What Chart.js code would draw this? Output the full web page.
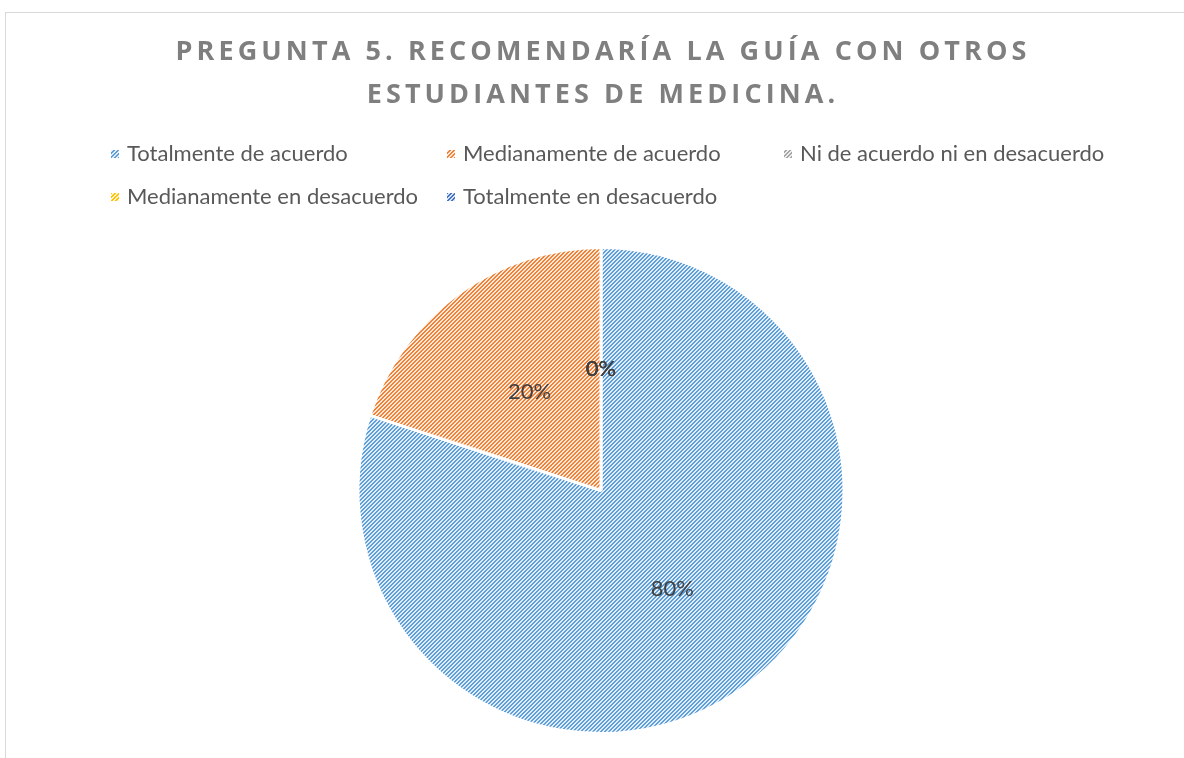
<!DOCTYPE html>
<html>
<head>
<meta charset="utf-8">
<script src="https://cdn.jsdelivr.net/npm/chart.js@4.4.0/dist/chart.umd.min.js"></script>
<style>
    html, body { margin: 0; padding: 0; background: #fff; overflow: hidden; }
    #frame { position: absolute; left: 5px; top: 12px; width: 1190px; height: 760px; border: 1px solid #d9d9d9; }
    canvas { display: block; }
</style>
</head>
<body>
<div id="frame"><canvas id="pieChart" width="1190" height="746"></canvas></div>
<script>
// datos del gráfico
const titleLines = ['PREGUNTA 5. RECOMENDARÍA LA GUÍA CON OTROS', 'ESTUDIANTES DE MEDICINA.'];
const categories = [
    'Totalmente de acuerdo',
    'Medianamente de acuerdo',
    'Ni de acuerdo ni en desacuerdo',
    'Medianamente en desacuerdo',
    'Totalmente en desacuerdo'
];
const percentages = [80, 20, 0, 0, 0];
const stripeColors = ['#5e9fda', '#f08238', '#a5a5a5', '#ffc000', '#4472c4'];
const lightColors = ['#e1edf9', '#fde8d9', '#ededed', '#fff2cc', '#dae3f3'];

// patrón de rayas diagonales ascendentes (como el relleno de Excel)
function makeHatch(fg, bg) {
    const c = document.createElement('canvas');
    c.width = 4; c.height = 4;
    const g = c.getContext('2d');
    g.fillStyle = bg;
    g.fillRect(0, 0, 4, 4);
    g.fillStyle = fg;
    for (let y = 0; y < 4; y++) {
        g.fillRect((4 - y) % 4, y, 1, 1);
        g.fillRect((5 - y) % 4, y, 1, 1);
    }
    return g.createPattern(c, 'repeat');
}
const patterns = stripeColors.map((c, i) => makeHatch(c, lightColors[i]));

// título con espaciado entre letras
const spacedTitle = {
    id: 'spacedTitle',
    afterDraw(chart) {
        const ctx = chart.ctx;
        ctx.save();
        ctx.font = 'bold 27px "Open Sans"';
        ctx.letterSpacing = '4.1px';
        ctx.fillStyle = '#7f7f7f';
        ctx.textAlign = 'center';
        ctx.textBaseline = 'middle';
        ctx.fillText(titleLines[0], 597, 39);
        ctx.fillText(titleLines[1], 597, 82);
        ctx.restore();
    }
};

// leyenda en columnas fijas
const gridLegend = {
    id: 'gridLegend',
    afterDraw(chart) {
        const ctx = chart.ctx;
        const cols = [105, 441, 778];
        const rows = [141, 184];
        ctx.save();
        ctx.font = '22px Lato';
        ctx.textBaseline = 'middle';
        categories.forEach((label, i) => {
            const x = cols[i % 3];
            const y = rows[Math.floor(i / 3)];
            ctx.fillStyle = patterns[i];
            ctx.fillRect(x, y - 4, 8, 8);
            ctx.fillStyle = '#595959';
            ctx.fillText(label, x + 16, y);
        });
        ctx.restore();
    }
};

// etiquetas de porcentaje
const sliceLabels = {
    id: 'sliceLabels',
    afterDatasetsDraw(chart) {
        const ctx = chart.ctx;
        const meta = chart.getDatasetMeta(0);
        ctx.save();
        ctx.font = '22px Lato';
        ctx.fillStyle = '#404040';
        ctx.textAlign = 'center';
        ctx.textBaseline = 'middle';
        meta.data.forEach((arc, i) => {
            const p = arc.tooltipPosition();
            ctx.fillText(percentages[i] + '%', p.x, p.y);
        });
        ctx.restore();
    }
};

const pieChart = new Chart(document.getElementById('pieChart').getContext('2d'), {
    type: 'pie',
    data: {
        labels: categories,
        datasets: [{
            data: percentages,
            backgroundColor: patterns,
            borderColor: '#ffffff',
            borderWidth: 3
        }]
    },
    options: {
        responsive: false,
        animation: false,
        layout: { padding: { top: 233, bottom: 24 } },
        plugins: {
            legend: { display: false },
            title: { display: false },
            tooltip: { enabled: false }
        }
    },
    plugins: [spacedTitle, gridLegend, sliceLabels]
});
</script>
</body>
</html>
